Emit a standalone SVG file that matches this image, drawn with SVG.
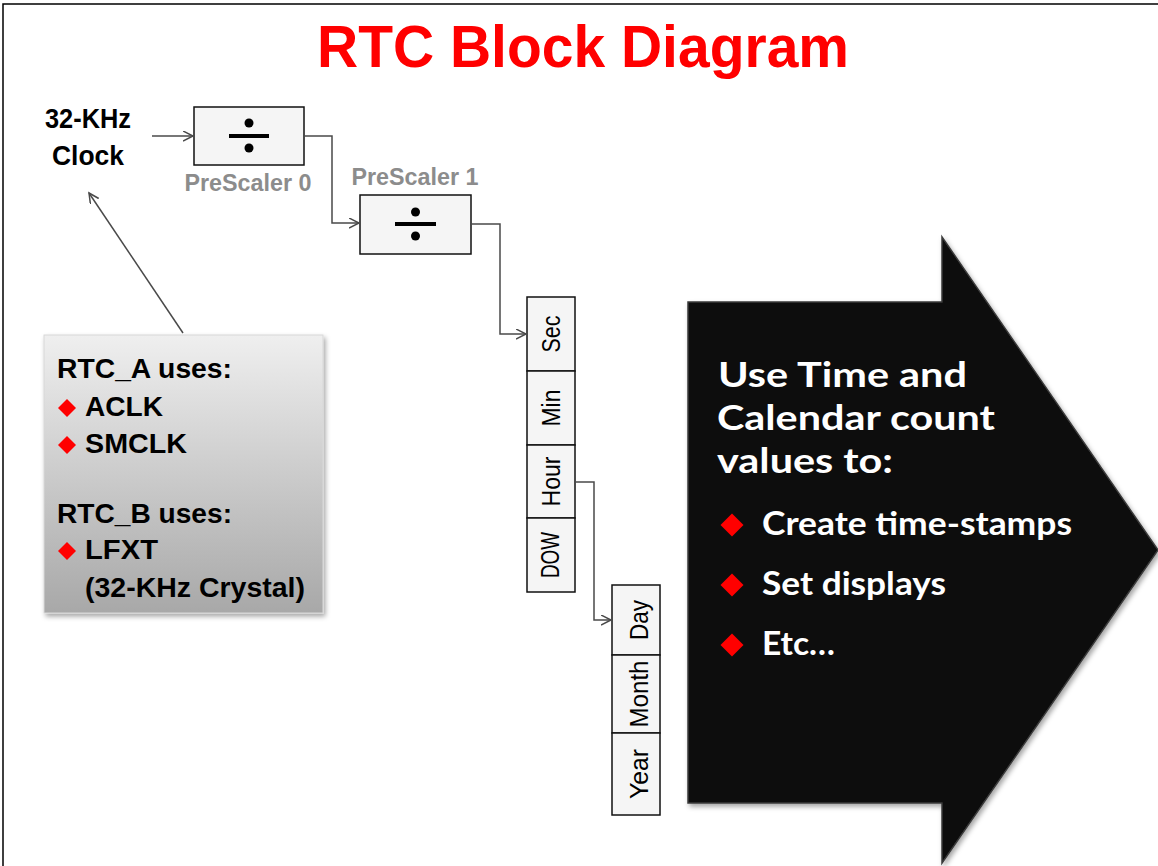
<svg xmlns="http://www.w3.org/2000/svg" width="1158" height="866" viewBox="0 0 1158 866">
<style>
.conn{fill:none;stroke:#4a4a4a;stroke-width:1.5}
.box{fill:#f5f5f5;stroke:#111;stroke-width:1.5}
.ps{font-family:"Liberation Sans",Arial,sans-serif;font-weight:bold;font-size:24px;fill:#8c8c8c;text-anchor:middle}
.lbl{font-family:"Liberation Sans",Arial,sans-serif;font-weight:bold;font-size:27px;fill:#000}
.cell{font-family:"Liberation Sans",Arial,sans-serif;font-size:25px;fill:#000;text-anchor:middle}
.cal{font-family:"Liberation Sans",Arial,sans-serif;font-size:26px;fill:#000;text-anchor:middle}
.wt{font-family:Lato,"Open Sans",sans-serif;font-weight:bold;fill:#fff}
.dia{fill:#ff0000}
</style>
<defs>
<marker id="open" markerUnits="userSpaceOnUse" markerWidth="12" markerHeight="12" refX="10" refY="5" orient="auto">
<path d="M0,0 L10,5 L0,10" fill="none" stroke="#4a4a4a" stroke-width="1.5"/>
</marker>
<linearGradient id="gbox" x1="0" y1="0" x2="0" y2="1">
<stop offset="0" stop-color="#efefef"/>
<stop offset="1" stop-color="#a8a8a8"/>
</linearGradient>
<filter id="sh" x="-10%" y="-10%" width="130%" height="130%">
<feDropShadow dx="2" dy="3" stdDeviation="2.5" flood-color="#000" flood-opacity="0.35"/>
</filter>
<path id="dm" d="M0,-9 L9,0 L0,9 L-9,0 Z"/>
<path id="dmL" d="M0,-11.5 L11.5,0 L0,11.5 L-11.5,0 Z"/>
</defs>
<rect width="1158" height="866" fill="#fff"/>
<path d="M3,866 V4 H1158" fill="none" stroke="#000" stroke-width="1.5"/>

<text x="583" y="67" font-family="Liberation Sans,Arial,sans-serif" font-weight="bold" font-size="59" fill="#ff0000" text-anchor="middle" textLength="532" lengthAdjust="spacingAndGlyphs">RTC Block Diagram</text>

<g id="clock">
<text class="lbl" x="88" y="128" text-anchor="middle" textLength="86" lengthAdjust="spacingAndGlyphs">32-KHz</text>
<text class="lbl" x="88" y="165" text-anchor="middle" textLength="72" lengthAdjust="spacingAndGlyphs">Clock</text>
</g>

<g id="prescaler0">
<rect class="box" x="194" y="107" width="110" height="58"/>
<rect x="229" y="134" width="40" height="4" fill="#000"/>
<circle cx="249" cy="123" r="4.5" fill="#000"/>
<circle cx="249" cy="148" r="4.5" fill="#000"/>
<text class="ps" x="248" y="191" textLength="127" lengthAdjust="spacingAndGlyphs">PreScaler 0</text>
</g>

<g id="prescaler1">
<rect class="box" x="360" y="195" width="111" height="59"/>
<rect x="395" y="222" width="41" height="4" fill="#000"/>
<circle cx="415.5" cy="212" r="4.5" fill="#000"/>
<circle cx="415.5" cy="236" r="4.5" fill="#000"/>
<text class="ps" x="415" y="185" textLength="127" lengthAdjust="spacingAndGlyphs">PreScaler 1</text>
</g>

<g id="time">
<rect class="box" x="527" y="297" width="48" height="74"/>
<rect class="box" x="527" y="371" width="48" height="74"/>
<rect class="box" x="527" y="445" width="48" height="73"/>
<rect class="box" x="527" y="518" width="48" height="74"/>
<text class="cell" transform="translate(560,334) rotate(-90)" textLength="37" lengthAdjust="spacingAndGlyphs">Sec</text>
<text class="cell" transform="translate(560,408) rotate(-90)" textLength="37" lengthAdjust="spacingAndGlyphs">Min</text>
<text class="cell" transform="translate(560,481.5) rotate(-90)" textLength="50" lengthAdjust="spacingAndGlyphs">Hour</text>
<text class="cell" font-size="22" transform="translate(559,555) rotate(-90)" textLength="46" lengthAdjust="spacingAndGlyphs">DOW</text>
</g>

<g id="calendar">
<rect class="box" x="612" y="585" width="48" height="70"/>
<rect class="box" x="612" y="655" width="48" height="78"/>
<rect class="box" x="612" y="733" width="48" height="82"/>
<text class="cal" transform="translate(648,620) rotate(-90)" textLength="40" lengthAdjust="spacingAndGlyphs">Day</text>
<text class="cal" transform="translate(648,694) rotate(-90)" textLength="67" lengthAdjust="spacingAndGlyphs">Month</text>
<text class="cal" transform="translate(648,774) rotate(-90)" textLength="50" lengthAdjust="spacingAndGlyphs">Year</text>
</g>

<g id="sources">
<rect x="44" y="335" width="279" height="278" fill="url(#gbox)" stroke="#d8d8d8" stroke-width="1" filter="url(#sh)"/>
<text class="lbl" x="57" y="378" textLength="175" lengthAdjust="spacingAndGlyphs">RTC_A uses:</text>
<use href="#dm" x="67" y="408" class="dia"/>
<text class="lbl" x="85" y="416" textLength="78" lengthAdjust="spacingAndGlyphs">ACLK</text>
<use href="#dm" x="67" y="445" class="dia"/>
<text class="lbl" x="85" y="453" textLength="102" lengthAdjust="spacingAndGlyphs">SMCLK</text>
<text class="lbl" x="57" y="523" textLength="175" lengthAdjust="spacingAndGlyphs">RTC_B uses:</text>
<use href="#dm" x="67" y="551" class="dia"/>
<text class="lbl" x="85" y="559" textLength="73" lengthAdjust="spacingAndGlyphs">LFXT</text>
<text class="lbl" x="85" y="597" textLength="220" lengthAdjust="spacingAndGlyphs">(32-KHz Crystal)</text>
</g>

<g id="bigarrow">
<path d="M688,302 H942 V237 L1158,550 L942,863 V803 H688 Z" fill="#080808" stroke="#3a3a3a" stroke-width="1.5" filter="url(#sh)"/>
<text class="wt" x="718" y="387" font-size="35" textLength="249" lengthAdjust="spacingAndGlyphs">Use Time and</text>
<text class="wt" x="717" y="430" font-size="35" textLength="278" lengthAdjust="spacingAndGlyphs">Calendar count</text>
<text class="wt" x="717" y="473" font-size="35" textLength="176" lengthAdjust="spacingAndGlyphs">values to:</text>
<use href="#dmL" x="732" y="525" class="dia"/>
<text class="wt" x="762" y="535" font-size="32" textLength="310" lengthAdjust="spacingAndGlyphs">Create time-stamps</text>
<use href="#dmL" x="732" y="585" class="dia"/>
<text class="wt" x="762" y="595" font-size="32" textLength="184" lengthAdjust="spacingAndGlyphs">Set displays</text>
<use href="#dmL" x="732" y="645" class="dia"/>
<text class="wt" x="762" y="655" font-size="32" textLength="73" lengthAdjust="spacingAndGlyphs">Etc…</text>
</g>

<g id="connectors">
<line class="conn" x1="152" y1="136" x2="193" y2="136" marker-end="url(#open)"/>
<path class="conn" d="M304,136 H332 V223 H359" marker-end="url(#open)"/>
<path class="conn" d="M471,224 H500 V334 H526" marker-end="url(#open)"/>
<path class="conn" d="M575,482 H594 V620 H611" marker-end="url(#open)"/>
<line class="conn" x1="183" y1="333" x2="89" y2="193" marker-end="url(#open)"/>
</g>
</svg>
